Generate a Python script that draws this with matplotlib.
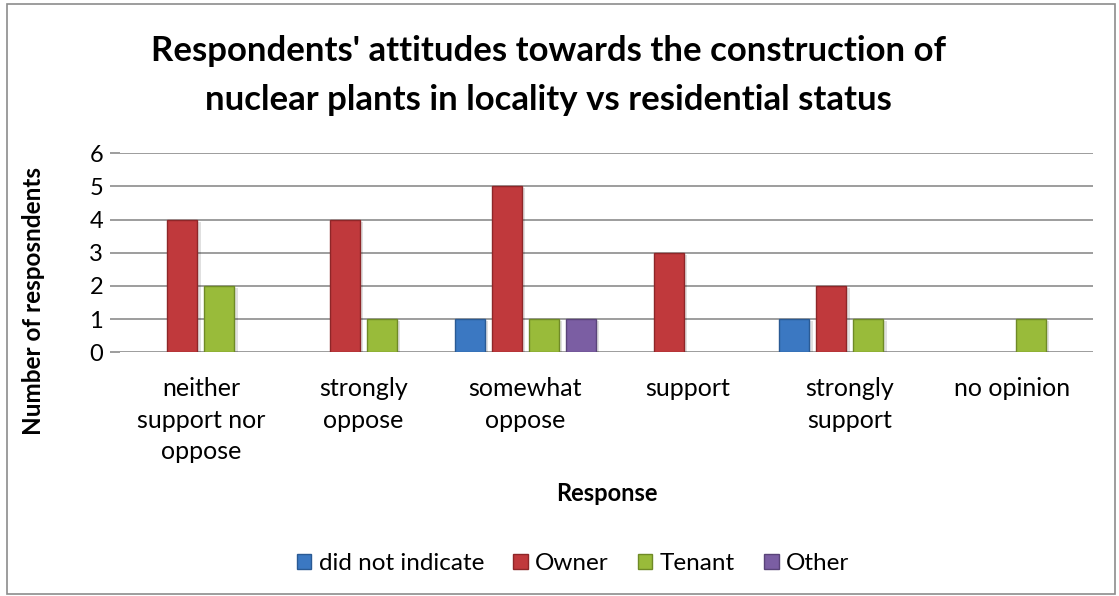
import matplotlib
matplotlib.use("Agg")
import matplotlib.pyplot as plt
import numpy as np
from matplotlib.patches import Rectangle

categories = ["neither\nsupport nor\noppose", "strongly\noppose", "somewhat\noppose",
              "support", "strongly\nsupport", "no opinion"]
series_names = ["did not indicate", "Owner", "Tenant", "Other"]
did_not_indicate = [0, 0, 1, 0, 1, 0]
owner = [4, 4, 5, 3, 2, 0]
tenant = [2, 1, 1, 0, 1, 1]
other = [0, 0, 1, 0, 0, 0]
series = [did_not_indicate, owner, tenant, other]
colors = ["#3b78c2", "#c0393c", "#99bb3a", "#7b5ea3"]
edges = ["#2a5a94", "#8e2628", "#6f8a26", "#5a4479"]

plt.rcParams['font.family'] = ['Lato', 'DejaVu Sans']

fig = plt.figure(figsize=(11.19, 5.96), dpi=100)
ax = fig.add_axes([0.107, 0.409, 0.87, 0.334])

x = np.arange(len(categories))
w = 0.185
step = 0.228
for i, (vals, c, ec) in enumerate(zip(series, colors, edges)):
    offs = (i - 1.5) * step
    xs = x + offs
    v = np.array(vals, dtype=float)
    mask = v > 0
    ax.bar(xs[mask], v[mask], width=w, color=c, edgecolor=ec, linewidth=1.0,
           label=series_names[i], zorder=3)
    ax.bar(xs[mask] + 0.02, v[mask], width=w, bottom=-0.06, color="#000000",
           alpha=0.12, linewidth=0, zorder=2.5)

ax.set_xlim(-0.5, len(categories) - 0.5)
ax.set_ylim(0, 6)
ax.set_yticks(range(0, 7))
ax.yaxis.grid(True, color="#8c8c8c", linewidth=1.2, zorder=0)
ax.set_axisbelow(True)
for s in ax.spines.values():
    s.set_visible(False)
ax.tick_params(axis='y', length=7, color="#8c8c8c", width=1.2, labelsize=17, pad=5)
ax.tick_params(axis='x', length=0, labelsize=18, pad=18)
ax.set_xticks(x)
ax.set_xticklabels(categories, linespacing=1.45)
ax.set_xlabel("Response", fontsize=17, fontweight="bold")
ax.xaxis.set_label_coords(0.5, -0.65)
ax.set_ylabel("Number of resposndents", fontsize=17.5, fontweight="bold")
ax.yaxis.set_label_coords(-0.077, 0.256)

fig.text(0.49, 0.874, "Respondents' attitudes towards the construction of\nnuclear plants in locality vs residential status",
         ha="center", va="center", fontsize=25, fontweight="bold", linespacing=1.65)

handles, labels = ax.get_legend_handles_labels()
fig.legend(handles, labels, loc="center", bbox_to_anchor=(0.512, 0.054), ncol=4,
           frameon=False, fontsize=17.5, handlelength=0.6, handleheight=0.6,
           columnspacing=1.2, handletextpad=0.3)

fig.patches.append(Rectangle((0.006, 0.004), 0.99, 0.99, transform=fig.transFigure,
                             fill=False, edgecolor="#8c8c8c", linewidth=1.2))

fig.savefig("out.png", dpi=100)
